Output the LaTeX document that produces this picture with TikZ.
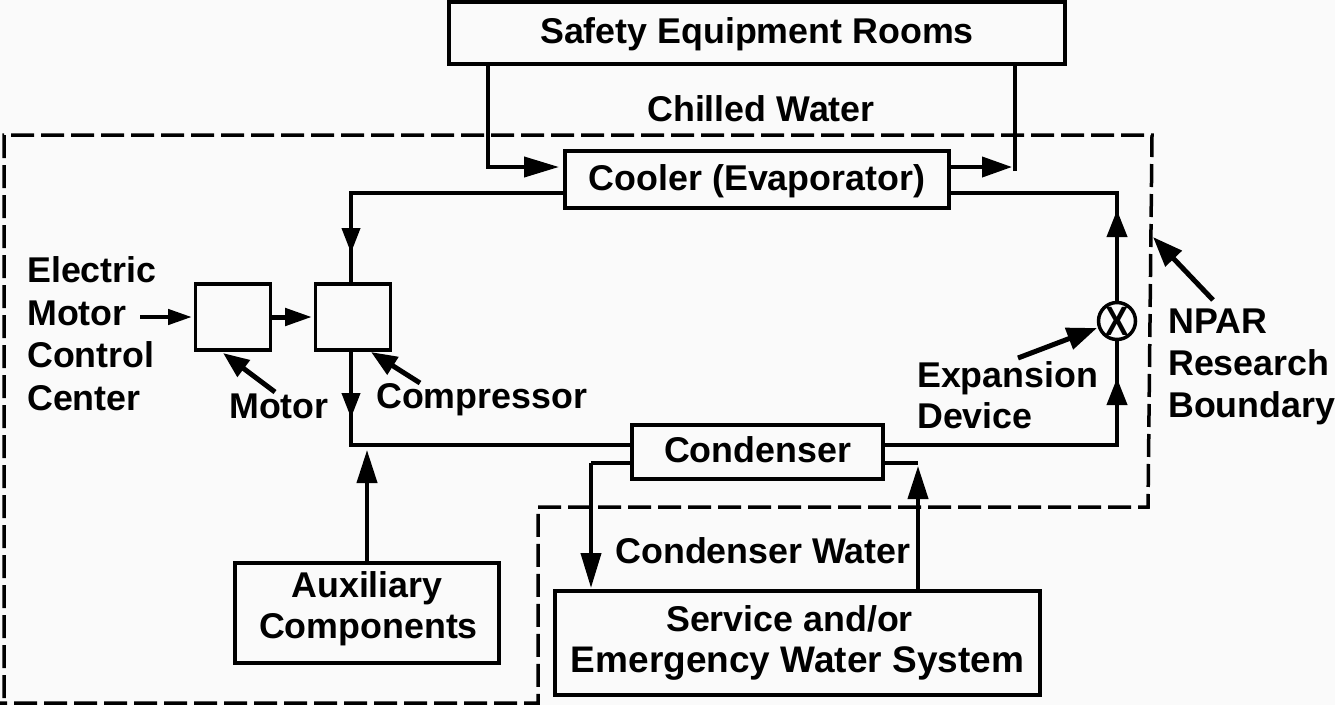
\documentclass[tikz,border=0pt]{standalone}
\usepackage{fontspec}
\setmainfont{Liberation Sans}
\usetikzlibrary{arrows.meta}
\tikzset{
  lbl/.style={inner sep=0pt,font=\fontsize{35.8}{41.5}\bfseries\selectfont},
  boxnode/.style={draw=black,line width=3.5pt,inner sep=0pt,align=center,font=\fontsize{35.8}{41.5}\bfseries\selectfont},
  oneline/.style={text height=27.5pt,text depth=6.5pt},
  pipe/.style={draw=black,line width=4.5pt,line join=miter},
  thinpipe/.style={draw=black,line width=3.5pt,line join=miter},
  flow/.style={draw=black,line width=4pt,-{Triangle[length=#1,width=20pt]}},
  flow/.default=30pt,
  compflow/.style={draw=black,line width=4pt,-{Triangle[length=25pt,width=18pt]}},
  ptr/.style={draw=black,line width=5pt,-{Triangle[length=30pt,width=22pt]}},
  smallptr/.style={draw=black,line width=5pt,-{Triangle[length=26pt,width=20pt]}},
  drive/.style={draw=black,line width=4.5pt,-{Triangle[length=24pt,width=15pt]}},
  shaft/.style={draw=black,line width=5pt,-{Triangle[length=27pt,width=17pt]}},
  bound/.style={draw=black,line width=3.5pt,dash pattern=on 23pt off 7pt},
}
\begin{document}
\begin{tikzpicture}[x=1pt,y=-1pt]
\useasboundingbox[fill=white!98!black] (0,0) rectangle (1335,705);
% boxes
\node[boxnode,oneline,minimum width=616pt,minimum height=62pt] (safety) at (757,33) {Safety Equipment Rooms};
\node[boxnode,oneline,minimum width=384pt,minimum height=57pt] (cooler) at (757,179.5) {Cooler (Evaporator)};
\node[boxnode,oneline,minimum width=251pt,minimum height=54pt] (condenser) at (757.5,452) {Condenser};
\node[boxnode,minimum width=75pt,minimum height=66pt] (motor) at (233,317) {};
\node[boxnode,minimum width=75pt,minimum height=66pt] (comp) at (353,317) {};
\node[boxnode,minimum width=264pt,minimum height=100pt,text depth=16pt] (aux) at (367,613) {Auxiliary\\\hspace*{3pt}Components};
\node[boxnode,minimum width=485pt,minimum height=104pt] (service) at (797.5,643) {Service and/or\hspace*{16pt}\\\fontsize{37}{41.5}\selectfont Emergency Water System};
\node[draw=black,line width=3.5pt,circle,minimum size=37pt,inner sep=0pt,font=\fontsize{41}{41}\bfseries\selectfont] (valve) at (1117,321) {\scalebox{0.85}[1]{X}};
% labels
\node[lbl,anchor=base] (chilled) at (761,121) {Chilled Water};
\node[lbl,anchor=base west] (electric) at (27,282) {Electric};
\node[lbl,anchor=base west] (mlabel) at (27,325) {Motor};
\node[lbl,anchor=base west] (control) at (27,367) {Control};
\node[lbl,anchor=base west] (center) at (27,410) {Center};
\node[lbl,anchor=base west] (motorlbl) at (229,418) {Motor};
\node[lbl,anchor=base west] (complbl) at (376,408) {Compressor};
\node[lbl,anchor=base west] (expa) at (917,387) {Expansion};
\node[lbl,anchor=base west] (devi) at (917,428) {Device};
\node[lbl,anchor=base west] (npar) at (1168,333) {NPAR};
\node[lbl,anchor=base west] (rese) at (1168,375) {Research};
\node[lbl,anchor=base west] (boun) at (1168,417) {Boundary};
\node[lbl,anchor=base] (cwater) at (763,563) {Condenser Water};
% boundary
\coordinate (b1) at (4,135);
\coordinate (b2) at (1152,135);
\coordinate (b3) at (1148,507);
\coordinate (b4) at (538,507);
\coordinate (b5) at (538,703);
\coordinate (b6) at (0,703);
\coordinate (b7) at (4,698);
\draw[bound] (b7) -- (b1) -- (b2) -- (b3) -- (b4) -- (b5) -- (b6);
% chilled water
\coordinate (wl) at (488,167);
\coordinate (wlt) at (559,167);
\coordinate (wr) at (1015,171);
\coordinate (wrt) at (1012,167);
\draw[thinpipe] (safety.south -| wl) -- (wl);
\draw[flow=35pt] (wl) ++(-2,0) -- (wlt);
\draw[thinpipe] (wr) -- (safety.south -| wr);
\draw[flow] (cooler.east |- wrt) -- (wrt);
% refrigerant loop
\coordinate (tl) at (351,193);
\coordinate (tlt) at (351,253);
\coordinate (bl) at (351,445);
\coordinate (blt) at (351,418);
\coordinate (tr) at (1117,193);
\coordinate (trt) at (1117,210);
\coordinate (br) at (1117,445);
\coordinate (brt) at (1117,378);
\draw[pipe] (cooler.west |- tl) -- (tl) -- (comp.north -| tl);
\draw[compflow] (tl) -- (tlt);
\draw[pipe] (comp.south -| bl) -- (bl) -- (condenser.west |- bl);
\draw[compflow] (comp.south -| bl) -- (blt);
\draw[pipe] (condenser.east |- br) -- (br) -- (valve.south);
\draw[flow=27pt] (br) -- (brt);
\draw[pipe] (valve.north) -- (tr) -- (cooler.east |- tr);
\draw[flow=27pt] (valve.north) -- (trt);
% condenser water
\coordinate (cl) at (591,463);
\coordinate (clt) at (591,588);
\coordinate (cr) at (918,463);
\coordinate (crt) at (918,466);
\draw[pipe] (condenser.west |- cl) -- (cl);
\draw[flow=35pt] (cl) -- (clt);
\draw[pipe] (condenser.east |- cr) -- (cr);
\draw[flow=33pt] (service.north -| cr) -- (crt);
% auxiliary
\coordinate (auxt) at (367,450);
\draw[flow=33pt] (aux.north -| auxt) -- (auxt);
% small arrows
\coordinate (emstart) at (140,317);
\coordinate (emtip) at (192,317);
\coordinate (mctip) at (312,317);
\draw[drive] (emstart) -- (emtip);
\draw[shaft] (motor.east |- mctip) -- (mctip);
% pointers
\coordinate (mp1) at (275,392); \coordinate (mp2) at (223,353);
\coordinate (cp1) at (420,383); \coordinate (cp2) at (371,352);
\coordinate (ep1) at (1018,358); \coordinate (ep2) at (1097,328);
\coordinate (np1) at (1213,300); \coordinate (np2) at (1153,237);
\draw[smallptr] (mp1) -- (mp2);
\draw[smallptr] (cp1) -- (cp2);
\draw[ptr] (ep1) -- (ep2);
\draw[ptr] (np1) -- (np2);
\end{tikzpicture}
\end{document}
